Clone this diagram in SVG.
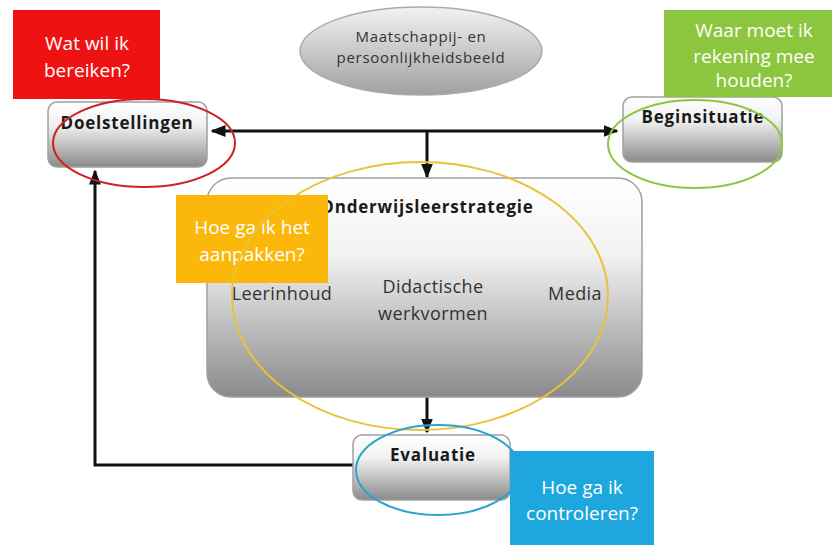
<svg xmlns="http://www.w3.org/2000/svg" width="832" height="545" viewBox="0 0 832 545">
<defs>
<linearGradient id="g" x1="0" y1="0" x2="0" y2="1">
<stop offset="0" stop-color="#ffffff"/>
<stop offset="0.35" stop-color="#f2f2f2"/>
<stop offset="1" stop-color="#8a8a8a"/>
</linearGradient>
<linearGradient id="ge" x1="0" y1="0" x2="0" y2="1">
<stop offset="0" stop-color="#f2f2f2"/>
<stop offset="1" stop-color="#a0a0a0"/>
</linearGradient>
<marker id="ah" viewBox="0 0 10 10" refX="9" refY="5" markerWidth="5" markerHeight="5" orient="auto-start-reverse">
<path d="M0,1 L10,5 L0,9 z" fill="#111"/>
</marker>
</defs>
<style>
.box{fill:url(#g);stroke:#a0a0a0;stroke-width:1.5}
.lbl{font-family:"Open Sans","Liberation Sans",sans-serif;font-weight:bold;fill:#1a1a1a;text-anchor:middle;font-size:17px;letter-spacing:0.8px}
.sub{font-family:"Open Sans","Liberation Sans",sans-serif;fill:#333;text-anchor:middle;font-size:18px;letter-spacing:0.4px}
.sm{font-size:15px;letter-spacing:0.7px}
.q{font-family:"Open Sans","Liberation Sans",sans-serif;fill:#ffffff;text-anchor:middle;font-size:19px}
.line{stroke:#111;stroke-width:3;fill:none}
.ring{fill:none;stroke-width:2}
</style>

<g id="maatschappij">
<ellipse cx="421" cy="51" rx="121" ry="44" fill="url(#ge)" stroke="#aaa" stroke-width="1.5"/>
<text class="sub sm" x="421" y="42">Maatschappij- en</text>
<text class="sub sm" x="421" y="63">persoonlijkheidsbeeld</text>
</g>

<g id="connectors">
<line class="line" x1="212" y1="131" x2="617" y2="131" marker-start="url(#ah)" marker-end="url(#ah)"/>
<line class="line" x1="427" y1="131" x2="427" y2="177" marker-end="url(#ah)"/>
<line class="line" x1="427" y1="397" x2="427" y2="432" marker-end="url(#ah)"/>
<polyline class="line" points="353,465 95,465 95,171" marker-end="url(#ah)"/>
</g>

<g id="doelstellingen">
<rect class="box" x="48" y="102" width="159" height="65" rx="9"/>
<text class="lbl" x="127" y="129">Doelstellingen</text>
</g>

<g id="beginsituatie">
<rect class="box" x="623" y="97" width="159" height="65" rx="9"/>
<text class="lbl" x="703" y="123">Beginsituatie</text>
</g>

<g id="onderwijsleerstrategie">
<rect class="box" x="207" y="178" width="435" height="219" rx="24"/>
<text class="lbl" x="427" y="213">Onderwijsleerstrategie</text>
<text class="sub" x="282" y="300">Leerinhoud</text>
<text class="sub" x="433" y="293">Didactische</text>
<text class="sub" x="433" y="320">werkvormen</text>
<text class="sub" x="575" y="300">Media</text>
</g>

<g id="evaluatie">
<rect class="box" x="353" y="435" width="157" height="65" rx="9"/>
<text class="lbl" x="433" y="461">Evaluatie</text>
</g>

<g id="vraag-doel">
<rect x="13" y="10" width="147" height="89" fill="#ef1212"/>
<text class="q" x="87" y="50">Wat wil ik</text>
<text class="q" x="87" y="77">bereiken?</text>
</g>

<g id="vraag-begin">
<rect x="664" y="10" width="168" height="87" fill="#8cc63f"/>
<text class="q" x="754" y="37">Waar moet ik</text>
<text class="q" x="754" y="63">rekening mee</text>
<text class="q" x="754" y="87">houden?</text>
</g>

<g id="vraag-aanpak">
<rect x="176" y="195" width="152" height="88" fill="#fbb80b"/>
<text class="q" x="252" y="234">Hoe ga ik het</text>
<text class="q" x="252" y="261">aanpakken?</text>
</g>

<g id="vraag-controle">
<rect x="510" y="451" width="144" height="94" fill="#1ea7df"/>
<text class="q" x="582" y="494">Hoe ga ik</text>
<text class="q" x="582" y="520">controleren?</text>
</g>

<g id="rings">
<ellipse class="ring" cx="144" cy="143" rx="91" ry="44" stroke="#cc2222"/>
<ellipse class="ring" cx="695" cy="144" rx="87" ry="44" stroke="#8cc63f"/>
<ellipse class="ring" cx="420" cy="296" rx="188" ry="134" stroke="#e8c23a"/>
<ellipse class="ring" cx="438" cy="470" rx="82" ry="45" stroke="#2ba3d0"/>
</g>
</svg>
